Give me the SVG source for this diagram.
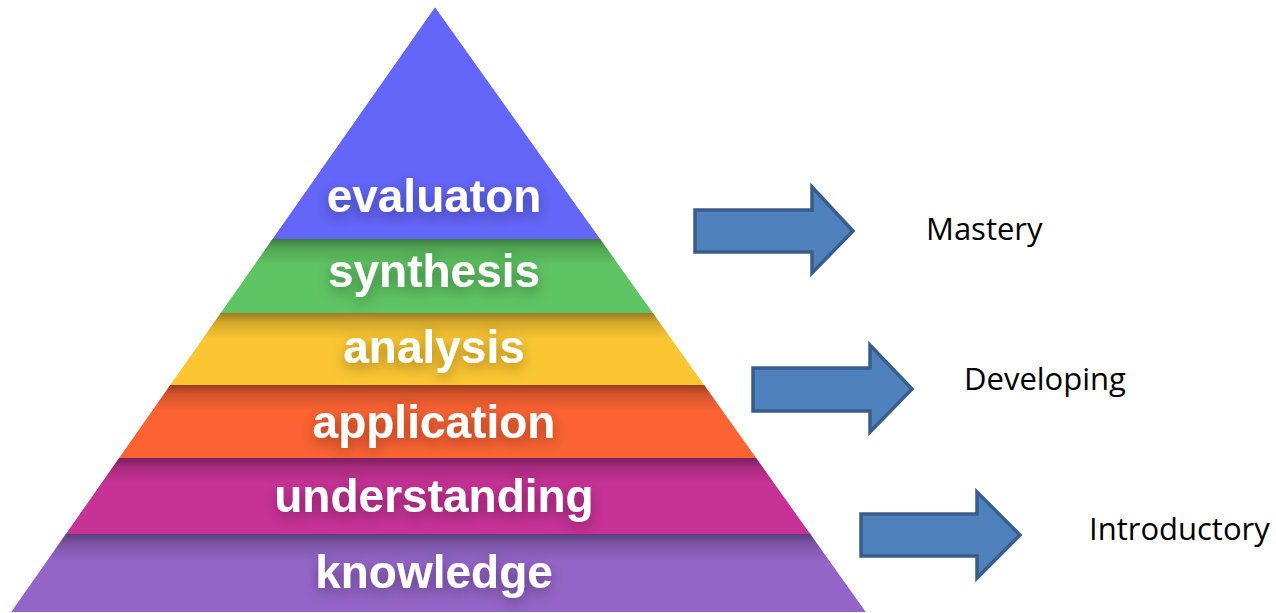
<svg xmlns="http://www.w3.org/2000/svg" width="1276" height="613" viewBox="0 0 1276 613">
<defs>
<style>
.lvl{font-family:"Liberation Sans",Arial,sans-serif;font-weight:bold;font-size:46px;fill:#ffffff;text-anchor:middle;filter:url(#tsh)}
.lab{font-family:"Open Sans","Liberation Sans",sans-serif;font-size:31px;fill:#000000}
.arr{fill:#4F81BD;stroke:#385D8A;stroke-width:3.5;stroke-linejoin:miter}
.shade{fill:url(#topShade)}
</style>
<filter id="tsh" x="-20%" y="-40%" width="140%" height="180%">
<feGaussianBlur in="SourceAlpha" stdDeviation="7"/>
<feOffset dy="5" result="b"/>
<feFlood flood-color="#000" flood-opacity="0.35"/>
<feComposite in2="b" operator="in" result="s"/>
<feMerge><feMergeNode in="s"/><feMergeNode in="SourceGraphic"/></feMerge>
</filter>
<linearGradient id="topShade" x1="0" y1="0" x2="0" y2="1">
<stop offset="0" stop-color="#000" stop-opacity="0.38"/>
<stop offset="0.35" stop-color="#000" stop-opacity="0.16"/>
<stop offset="1" stop-color="#000" stop-opacity="0"/>
</linearGradient>
<clipPath id="pyr"><polygon points="435,7 866,612 11,612"/></clipPath>
</defs>
<rect width="1276" height="613" fill="#ffffff"/>
<g id="pyramid" clip-path="url(#pyr)">
<g id="evaluation">
<polygon points="435,7 600.3,239 272.4,239" fill="#6366F8"/>
<text class="lvl" x="434" y="212">evaluaton</text>
</g>
<g id="synthesis">
<polygon points="272.4,239 600.3,239 653,313 220.5,313" fill="#5FC463"/>
<rect class="shade" x="0" y="239" width="900" height="26"/>
<text class="lvl" x="434" y="287">synthesis</text>
</g>
<g id="analysis">
<polygon points="220.5,313 653,313 704.3,385 170.1,385" fill="#FBC632"/>
<rect class="shade" x="0" y="313" width="900" height="26"/>
<text class="lvl" x="434" y="363">analysis</text>
</g>
<g id="application">
<polygon points="170.1,385 704.3,385 756.3,458 118.9,458" fill="#FB6333"/>
<rect class="shade" x="0" y="385" width="900" height="26"/>
<text class="lvl" x="434" y="438">application</text>
</g>
<g id="understanding">
<polygon points="118.9,458 756.3,458 810.4,534 65.7,534" fill="#C73296"/>
<rect class="shade" x="0" y="458" width="900" height="26"/>
<text class="lvl" x="434" y="512">understanding</text>
</g>
<g id="knowledge">
<polygon points="65.7,534 810.4,534 866,612 11,612" fill="#9465C8"/>
<rect class="shade" x="0" y="534" width="900" height="28"/>
<text class="lvl" x="434" y="588">knowledge</text>
</g>
</g>
<g id="connectors">
<polygon class="arr" points="695,210 812,210 812,187 853,231 812,273 812,252 695,252"/>
<polygon class="arr" points="753,368 870,368 870,345 912,389 870,432 870,411 753,411"/>
<polygon class="arr" points="861,514 977,514 977,492 1020,535 977,578 977,556 861,556"/>
</g>
<g id="mastery"><text class="lab" x="926" y="240">Mastery</text></g>
<g id="developing"><text class="lab" x="964" y="390">Developing</text></g>
<g id="introductory"><text class="lab" x="1089" y="540">Introductory</text></g>
</svg>
